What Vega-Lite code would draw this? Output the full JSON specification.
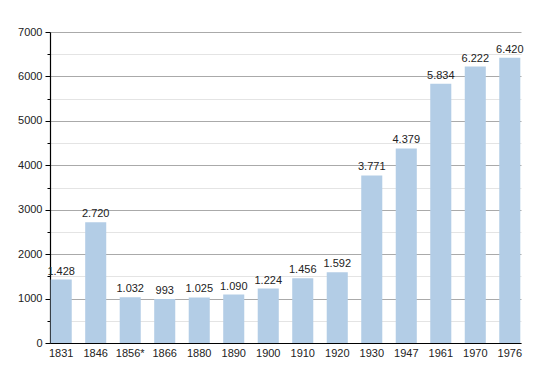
{
  "$schema": "https://vega.github.io/schema/vega-lite/v6.json",
  "autosize": {"type": "none"},
  "width": 471,
  "height": 311,
  "padding": {"left": 50, "top": 32, "right": 29, "bottom": 30},
  "background": "white",
  "config": {
    "locale": {"number": {"decimal": ",", "thousands": ".", "grouping": [3], "currency": ["", ""]}},
    "font": "Liberation Sans",
    "view": {"stroke": null}
  },
  "data": {
    "values": [
      {"year": "1831", "pop": 1428},
      {"year": "1846", "pop": 2720},
      {"year": "1856*", "pop": 1032},
      {"year": "1866", "pop": 993},
      {"year": "1880", "pop": 1025},
      {"year": "1890", "pop": 1090},
      {"year": "1900", "pop": 1224},
      {"year": "1910", "pop": 1456},
      {"year": "1920", "pop": 1592},
      {"year": "1930", "pop": 3771},
      {"year": "1947", "pop": 4379},
      {"year": "1961", "pop": 5834},
      {"year": "1970", "pop": 6222},
      {"year": "1976", "pop": 6420}
    ]
  },
  "encoding": {
    "x": {
      "field": "year", "type": "nominal", "sort": null,
      "scale": {"paddingInner": 0.39, "paddingOuter": 0.02},
      "axis": {"title": null, "labelAngle": 0, "ticks": false, "domainColor": "#000", "domainWidth": 1.2, "labelFontSize": 11, "labelColor": "#222", "labelPadding": 4}
    },
    "y": {
      "field": "pop", "type": "quantitative",
      "scale": {"domain": [0, 7000]},
      "axis": {
        "title": null,
        "values": [0, 500, 1000, 1500, 2000, 2500, 3000, 3500, 4000, 4500, 5000, 5500, 6000, 6500, 7000],
        "format": "d",
        "labelExpr": "datum.value % 1000 === 0 ? datum.label : ''",
        "gridColor": {"condition": {"test": "datum.value % 1000 === 0", "value": "#aaaaaa"}, "value": "#e4e4e4"},
        "tickColor": "#000",
        "tickSize": {"condition": {"test": "datum.value % 1000 === 0", "value": 5}, "value": 3},
        "domainColor": "#000",
        "domainWidth": 1.2,
        "labelFontSize": 11,
        "labelColor": "#222",
        "labelPadding": 3
      }
    }
  },
  "layer": [
    {"mark": {"type": "bar", "color": "#b3cde6"}},
    {
      "mark": {"type": "text", "baseline": "bottom", "dy": -3, "fontSize": 11, "color": "#222"},
      "encoding": {"text": {"field": "pop", "type": "quantitative", "format": ",d"}}
    }
  ]
}
